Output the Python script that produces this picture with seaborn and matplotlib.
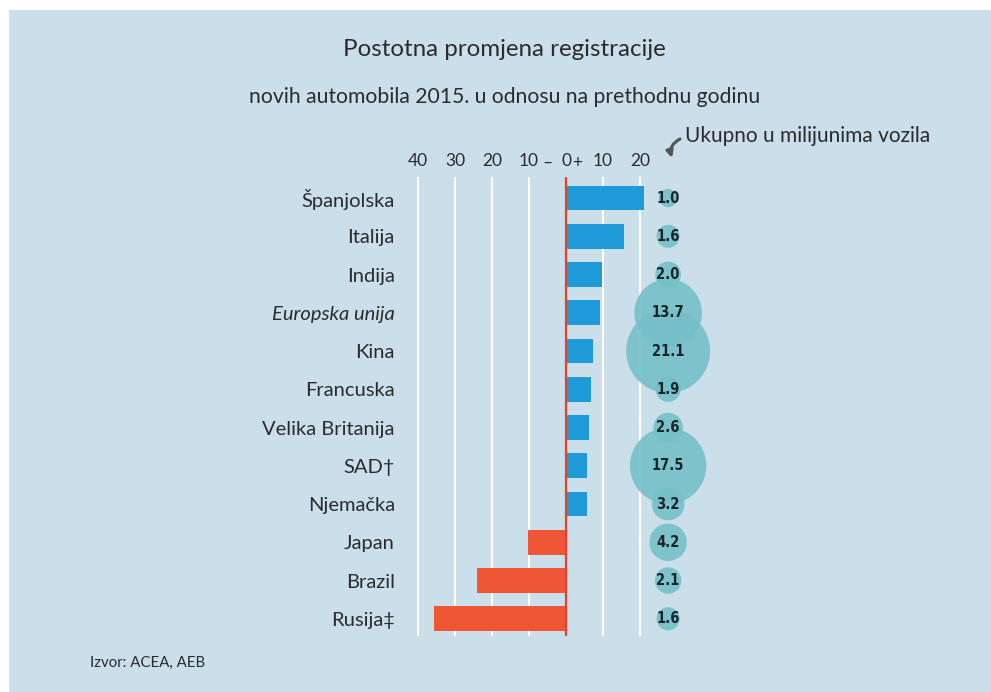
import numpy as np
import pandas as pd
import matplotlib
matplotlib.use("Agg")
import matplotlib.pyplot as plt
import seaborn as sns
from matplotlib.patches import Rectangle

# ---- data ----
countries = ["Španjolska", "Italija", "Indija", "Europska unija", "Kina", "Francuska",
             "Velika Britanija", "SAD†", "Njemačka", "Japan", "Brazil", "Rusija‡"]
change_pct = [21.0, 15.7, 9.7, 9.3, 7.3, 6.8, 6.3, 5.8, 5.6, -10.3, -24.0, -35.7]
total_mil = [1.0, 1.6, 2.0, 13.7, 21.1, 1.9, 2.6, 17.5, 3.2, 4.2, 2.1, 1.6]
total_labels = ["1.0", "1.6", "2.0", "13.7", "21.1", "1.9", "2.6", "17.5", "3.2", "4.2", "2.1", "1.6"]
tick_vals = [-40, -30, -20, -10, 0, 10, 20]
tick_labels = ["40", "30", "20", "10", "0", "10", "20"]

BG = "#cbdfea"
BLUE = "#1e9ad8"
RED = "#ef5636"
TEAL = "#76bfc8"
TXT = "#2b2b2b"

sns.set_theme(style="white")
plt.rcParams['font.family'] = ['Lato', 'DejaVu Sans']

df = pd.DataFrame({"country": countries, "change": change_pct, "total": total_mil})
df["sign"] = np.where(df["change"] >= 0, "pos", "neg")
df["bx"] = 27.6

fig = plt.figure(figsize=(9.91, 6.92), dpi=100)
fig.patch.set_facecolor("white")
fig.add_artist(Rectangle((9 / 991, 0), 1 - 9 / 991, 1 - 10 / 692, transform=fig.transFigure,
                         facecolor=BG, edgecolor="none", zorder=-10))

# axes: x data -> px = 566 + 3.7*v
x0, x1 = -44, 42
left_px = 566 + 3.7 * x0
right_px = 566 + 3.7 * x1
top_px, bot_px = 177, 636
ax = fig.add_axes([left_px / 991, 1 - bot_px / 692, (right_px - left_px) / 991, (bot_px - top_px) / 692])
ax.set_facecolor("none")

sns.barplot(data=df, x="change", y="country", hue="sign", palette={"pos": BLUE, "neg": RED},
            dodge=False, width=0.65, legend=False, ax=ax, orient="h", zorder=3, linewidth=0,
            saturation=1)

vmin, vmax = min(total_mil), max(total_mil)
k = 173.0
sns.scatterplot(data=df, x="bx", y="country", size="total", sizes=(k * vmin, k * vmax),
                size_norm=(vmin, vmax), color=TEAL, alpha=0.9, linewidth=0, legend=False,
                ax=ax, zorder=2)

for i, lab in enumerate(total_labels):
    ax.text(27.6, i, lab, ha="center", va="center", fontsize=10.5, fontweight="bold",
            color="#1a2529", zorder=5, family=["DejaVu Sans"], stretch="condensed")

ax.set_xlim(x0, x1)
ax.set_ylim(len(countries) - 1 + 0.45, -0.55)

# grid
for v in tick_vals:
    if v == 0:
        ax.axvline(0, color="#e8412a", lw=1.6, zorder=4)
    else:
        ax.axvline(v, color="white", lw=1.5, zorder=1)

ax.xaxis.tick_top()
ax.set_xticks(tick_vals)
ax.set_xticklabels(tick_labels, fontsize=12.5, color=TXT)
ax.tick_params(axis="x", length=0, pad=6)
yoff = 1.0 + 6 / (bot_px - top_px)
ax.text(-4.9, yoff, "–", transform=ax.get_xaxis_transform(), ha="center", va="bottom",
        fontsize=12.5, color=TXT)
ax.text(3.0, yoff, "+", transform=ax.get_xaxis_transform(), ha="center", va="bottom",
        fontsize=12.5, color=TXT)
# nudge the "+10" label slightly right of the plus sign like the reference
for lbl in ax.get_xticklabels():
    pass

ax.set_yticks(range(len(countries)))
ax.set_yticklabels(countries, fontsize=14.5, color=TXT)
ax.tick_params(axis="y", length=0, pad=6)
for lbl in ax.get_yticklabels():
    if lbl.get_text() == "Europska unija":
        lbl.set_style("italic")
ax.set_xlabel("")
ax.set_ylabel("")
for s in ax.spines.values():
    s.set_visible(False)

# titles
fig.text(504 / 991, 1 - 49 / 692, "Postotna promjena registracije", ha="center", va="center",
         fontsize=17.4, color=TXT)
fig.text(504.5 / 991, 1 - 97 / 692, "novih automobila 2015. u odnosu na prethodnu godinu",
         ha="center", va="center", fontsize=15.2, color=TXT)
fig.text(685 / 991, 1 - 136 / 692, "Ukupno u milijunima vozila", ha="left", va="center",
         fontsize=15, color=TXT)
fig.text(90 / 991, 1 - 663 / 692, "Izvor: ACEA, AEB", ha="left", va="center",
         fontsize=10.8, color=TXT)

ax.annotate("", xy=(672, 692 - 158), xytext=(680, 692 - 139), xycoords="figure pixels",
            textcoords="figure pixels",
            arrowprops=dict(arrowstyle="-|>", color="#555555", lw=2.2, mutation_scale=10,
                            connectionstyle="arc3,rad=0.4", shrinkA=0, shrinkB=0))

fig.savefig("out.png", dpi=100, facecolor=fig.get_facecolor())
